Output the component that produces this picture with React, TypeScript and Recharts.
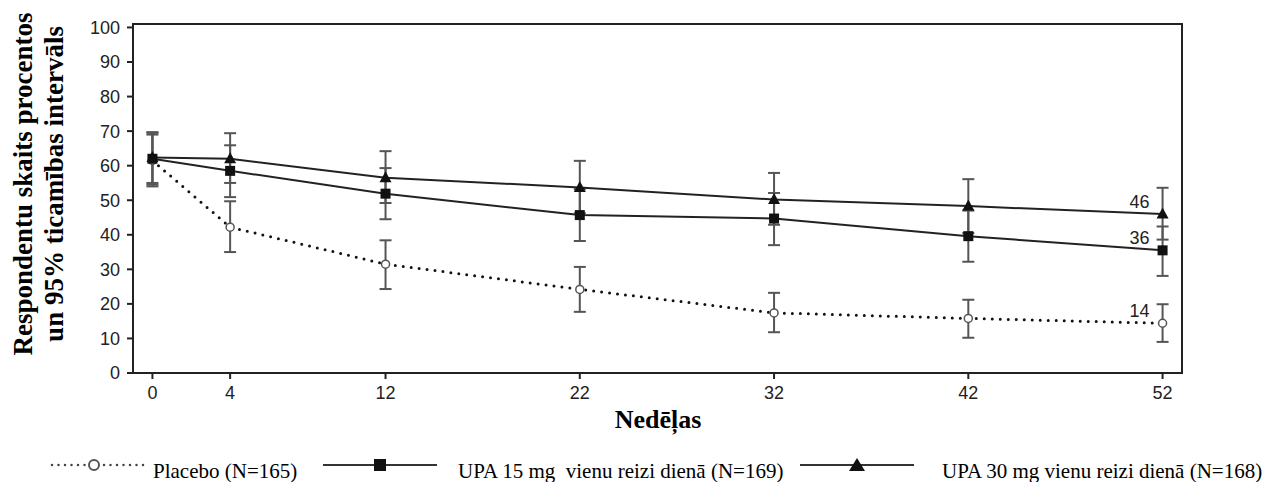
import React from "react";
import {
  ComposedChart,
  Line,
  XAxis,
  YAxis,
  ErrorBar,
  LabelList,
  ReferenceArea,
} from "recharts";

const weeks = [0, 4, 12, 22, 32, 42, 52];
const xTicks = [0, 4, 12, 22, 32, 42, 52];
const yTicks = [0, 10, 20, 30, 40, 50, 60, 70, 80, 90, 100];

const placebo = [61.5, 42.2, 31.5, 24.2, 17.4, 15.8, 14.4];
const placeboLow = [54, 35, 24.3, 17.7, 11.8, 10.2, 9];
const placeboHigh = [69, 49.7, 38.4, 30.7, 23.2, 21.2, 19.9];

const upa15 = [62, 58.5, 51.9, 45.7, 44.7, 39.6, 35.5];
const upa15Low = [54.5, 50.9, 44.5, 38.2, 37, 32.2, 28.1];
const upa15High = [69.5, 65.9, 59.3, 53.2, 52.1, 47, 42.4];

const upa30 = [62.4, 62, 56.5, 53.7, 50.2, 48.3, 46];
const upa30Low = [55, 55, 49.2, 46.2, 42.9, 40.5, 38.6];
const upa30High = [69.7, 69.4, 64.2, 61.4, 57.9, 56.1, 53.6];

const endLabels = { placebo: "14", upa15: "36", upa30: "46" };

const legendNames = [
  "Placebo (N=165)",
  "UPA 15 mg  vienu reizi dienā (N=169)",
  "UPA 30 mg vienu reizi dienā (N=168)",
];

const last = weeks.length - 1;
const data = weeks.map((w, i) => ({
  week: w,
  placebo: placebo[i],
  placeboErr: [placebo[i] - placeboLow[i], placeboHigh[i] - placebo[i]],
  placeboEnd: i === last ? endLabels.placebo : null,
  upa15: upa15[i],
  upa15Err: [upa15[i] - upa15Low[i], upa15High[i] - upa15[i]],
  upa15End: i === last ? endLabels.upa15 : null,
  upa30: upa30[i],
  upa30Err: [upa30[i] - upa30Low[i], upa30High[i] - upa30[i]],
  upa30End: i === last ? endLabels.upa30 : null,
}));

const sans = "'Liberation Sans', Arial, sans-serif";
const serif = "'Liberation Serif', 'Times New Roman', serif";
const ink = "#222";
const errColor = "#555";

const CircleDot = (p: any) => (
  <circle key={`c${p.index}`} cx={p.cx} cy={p.cy} r={4} fill="#fff" stroke={errColor} strokeWidth={1.5} />
);
const SquareDot = (p: any) => (
  <rect key={`s${p.index}`} x={p.cx - 5} y={p.cy - 5} width={10} height={10} fill="#111" />
);
const TriangleDot = (p: any) => (
  <polygon
    key={`t${p.index}`}
    points={`${p.cx},${p.cy - 6.5} ${p.cx - 6},${p.cy + 4.5} ${p.cx + 6},${p.cy + 4.5}`}
    fill="#111"
  />
);

const endLabel = (props: any) => {
  const { x, y, value } = props;
  if (value == null) return null;
  return (
    <text x={x - 23} y={y - 12} textAnchor="middle" dominantBaseline="central" fontFamily={sans} fontSize={18} fill={ink}>
      {value}
    </text>
  );
};

const XTick = (p: any) => (
  <text x={p.x} y={p.y} dy="0.71em" textAnchor="middle" fontFamily={sans} fontSize={18} fill={ink}>
    {p.payload.value}
  </text>
);
const YTick = (p: any) => (
  <text x={p.x} y={p.y} dy="0.36em" textAnchor="end" fontFamily={sans} fontSize={18} fill={ink}>
    {p.payload.value}
  </text>
);

const YTitle = () => (
  <g fontFamily={serif} fontWeight="bold" fontSize={27} fill="#000">
    <text x={32} y={184} textAnchor="middle" transform="rotate(-90 32 184)">
      Respondentu skaits procentos
    </text>
    <text x={63} y={184} textAnchor="middle" transform="rotate(-90 63 184)">
      un 95% ticamības intervāls
    </text>
  </g>
);

function LegendIcon({ kind }: { kind: string }) {
  const w = kind === "placebo" ? 100 : 114;
  const cx = w / 2;
  return (
    <svg width={w} height={16} style={{ display: "block" }}>
      {kind === "placebo" ? (
        <line x1={2} y1={8} x2={w - 2} y2={8} stroke="#444" strokeWidth={2.5} strokeDasharray="0 6.5" strokeLinecap="round" />
      ) : (
        <line x1={0} y1={8} x2={w} y2={8} stroke="#333" strokeWidth={2} />
      )}
      {kind === "placebo" && <circle cx={cx - 6} cy={8} r={5} fill="#fff" stroke="#555" strokeWidth={2} />}
      {kind === "upa15" && <rect x={cx - 6} y={2} width={12} height={12} fill="#111" />}
      {kind === "upa30" && <polygon points={`${cx},1 ${cx - 8},14 ${cx + 8},14`} fill="#111" />}
    </svg>
  );
}

export default function App() {
  const legendItems = [
    { kind: "placebo", iconX: 50, textX: 153 },
    { kind: "upa15", iconX: 323, textX: 458 },
    { kind: "upa30", iconX: 800, textX: 942 },
  ];
  return (
    <div style={{ position: "absolute", left: 0, top: 0, width: 1270, height: 482, background: "#fff" }}>
      <ComposedChart width={1270} height={482} data={data} margin={{ top: 24, right: 88, left: 0, bottom: 0 }}>
        <XAxis
          dataKey="week"
          type="number"
          domain={[-1, 53]}
          ticks={xTicks}
          height={109}
          axisLine={{ stroke: ink, strokeWidth: 2 }}
          tickLine={{ stroke: ink, strokeWidth: 2 }}
          tickSize={6}
          tickMargin={7}
          tick={XTick}
          label={{
            value: "Nedēļas",
            position: "insideBottom",
            offset: 0,
            content: () => (
              <text x={658} y={428} textAnchor="middle" fontFamily={serif} fontWeight="bold" fontSize={26} fill="#000">
                Nedēļas
              </text>
            ),
          }}
        />
        <YAxis
          type="number"
          domain={[0, 101]}
          ticks={yTicks}
          width={133}
          interval={0}
          axisLine={{ stroke: ink, strokeWidth: 2 }}
          tickLine={{ stroke: ink, strokeWidth: 2 }}
          tickSize={6}
          tickMargin={7}
          tick={YTick}
          label={{ value: "", content: () => <YTitle /> }}
        />
        <ReferenceArea x1={-1} x2={53} y1={0} y2={101} fill="none" stroke={ink} strokeWidth={2} />
        <Line
          dataKey="placebo"
          stroke="#111"
          strokeWidth={3}
          strokeDasharray="0 8"
          strokeLinecap="round"
          dot={CircleDot}
          activeDot={false}
          isAnimationActive={false}
        >
          <ErrorBar dataKey="placeboErr" direction="y" width={6} stroke={errColor} strokeWidth={2} />
          <LabelList dataKey="placeboEnd" content={endLabel} />
        </Line>
        <Line dataKey="upa15" stroke={ink} strokeWidth={2} dot={SquareDot} activeDot={false} isAnimationActive={false}>
          <ErrorBar dataKey="upa15Err" direction="y" width={6} stroke={errColor} strokeWidth={2} />
          <LabelList dataKey="upa15End" content={endLabel} />
        </Line>
        <Line dataKey="upa30" stroke={ink} strokeWidth={2} dot={TriangleDot} activeDot={false} isAnimationActive={false}>
          <ErrorBar dataKey="upa30Err" direction="y" width={6} stroke={errColor} strokeWidth={2} />
          <LabelList dataKey="upa30End" content={endLabel} />
        </Line>
      </ComposedChart>
      {legendItems.map((it, i) => (
        <React.Fragment key={it.kind}>
          <div style={{ position: "absolute", left: it.iconX, top: 457 }}>
            <LegendIcon kind={it.kind} />
          </div>
          <div
            style={{
              position: "absolute",
              left: it.textX,
              top: 459,
              fontFamily: serif,
              fontSize: 21,
              lineHeight: "24px",
              whiteSpace: "pre",
              color: "#000",
            }}
          >
            {legendNames[i]}
          </div>
        </React.Fragment>
      ))}
    </div>
  );
}
